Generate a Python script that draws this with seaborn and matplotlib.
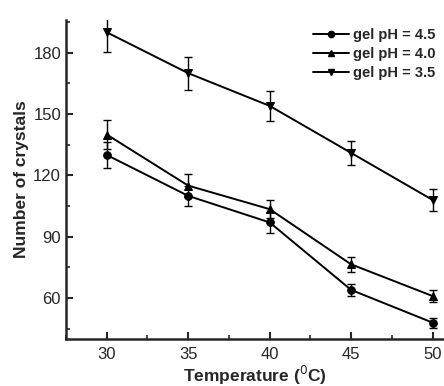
import numpy as np
import pandas as pd
import matplotlib
matplotlib.use("Agg")
import matplotlib.pyplot as plt
import seaborn as sns
from matplotlib.lines import Line2D
from matplotlib.ticker import MultipleLocator

# datos
temperature = [30, 35, 40, 45, 50]
ph_45 = [130, 110, 97, 64, 48]
ph_45_err = [6.5, 5, 5, 3, 2.5]
ph_40 = [140, 115, 103.5, 76.5, 61]
ph_40_err = [7, 5.5, 4.5, 3.5, 3]
ph_35 = [190, 170, 154, 131, 108]
ph_35_err = [9.5, 8, 7.5, 6, 5.5]
series_labels = ["gel pH = 4.5", "gel pH = 4.0", "gel pH = 3.5"]
markers = ["o", "^", "v"]

df = pd.DataFrame({
    "Temperature": temperature * 3,
    "Crystals": ph_45 + ph_40 + ph_35,
    "err": ph_45_err + ph_40_err + ph_35_err,
    "serie": [s for s in series_labels for _ in temperature],
})

sns.set_style("ticks")
plt.rcParams["font.family"] = ["Liberation Sans", "DejaVu Sans"]

fig = plt.figure(figsize=(4.44, 3.86), dpi=100)
ax = fig.add_axes([0.1486, 0.1218, 0.8514, 0.8264])

sns.lineplot(data=df, x="Temperature", y="Crystals", hue="serie", style="serie",
             markers=dict(zip(series_labels, markers)), dashes=False,
             palette=["black"] * 3, markersize=5.5, linewidth=1.4,
             markeredgecolor="black", legend=False, ax=ax)

for s in series_labels:
    sub = df[df["serie"] == s]
    ax.errorbar(sub["Temperature"], sub["Crystals"], yerr=sub["err"], fmt="none",
                ecolor="black", elinewidth=1.0, capsize=3, capthick=1.0)

ax.set_xlim(27.5, 50.7)
ax.set_ylim(40, 196)
ax.xaxis.set_major_locator(MultipleLocator(5))
ax.xaxis.set_minor_locator(MultipleLocator(2.5))
ax.yaxis.set_major_locator(MultipleLocator(30))
ax.yaxis.set_minor_locator(MultipleLocator(15))
ax.tick_params(which="major", direction="in", length=5, width=1.5, labelsize=12)
ax.tick_params(axis="x", which="major", pad=6)
ax.tick_params(which="minor", direction="in", length=3, width=1.2)
for side in ["left", "bottom"]:
    ax.spines[side].set_linewidth(1.8)
sns.despine(ax=ax)

ax.set_xlabel("Temperature ($^0$C)", fontsize=12.5, fontweight="bold", labelpad=1)
ax.set_ylabel("Number of crystals", fontsize=12.5, fontweight="bold", labelpad=3)

# leyenda con el marcador en el centro de la línea
handles = [Line2D([0], [0], color="black", lw=1.4, marker=m, markersize=4.5)
           for m in markers]
ax.legend(handles, series_labels, loc="upper right", frameon=False,
          handlelength=2.5, handletextpad=0.3, labelspacing=0.35,
          borderaxespad=0.15, numpoints=1,
          prop={"weight": "bold", "size": 10.5})

plt.savefig("out.png", dpi=100)
